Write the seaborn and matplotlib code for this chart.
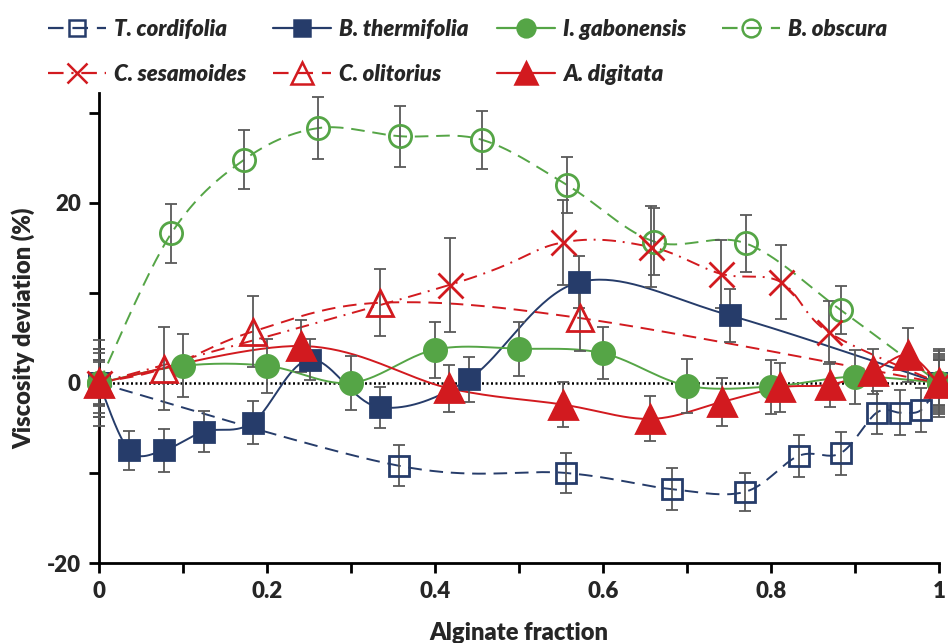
import numpy as np
import matplotlib
matplotlib.use("Agg")
import matplotlib.pyplot as plt
from matplotlib.lines import Line2D
import seaborn as sns

# Values (alginate fraction, viscosity deviation %, error)
x_tc = [0, 0.357, 0.556, 0.682, 0.769, 0.833, 0.883, 0.926, 0.954, 0.979, 1]
y_tc = [0, -9.2, -10.0, -11.8, -12.1, -8.1, -7.8, -3.3, -3.3, -3.0, 0]
e_tc = [2.5, 2.3, 2.2, 2.3, 2.1, 2.3, 2.4, 2.4, 2.5, 2.4, 2.6]

x_bt = [0, 0.036, 0.077, 0.125, 0.183, 0.251, 0.334, 0.440, 0.572, 0.751, 1]
y_bt = [0, -7.5, -7.5, -5.4, -4.4, 2.6, -2.7, 0.4, 11.2, 7.5, 0]
e_bt = [3.8, 2.2, 2.4, 2.3, 2.4, 2.3, 2.3, 2.5, 2.9, 2.9, 3.5]

x_ig = [0, 0.1, 0.2, 0.3, 0.4, 0.5, 0.6, 0.7, 0.8, 0.9, 1]
y_ig = [0, 1.9, 1.9, 0, 3.7, 3.8, 3.3, -0.3, -0.4, 0.7, 0]
e_ig = [3.3, 3.5, 3.0, 3.0, 3.1, 3.0, 2.9, 3.0, 3.0, 3.0, 3.2]

x_bo = [0, 0.086, 0.173, 0.261, 0.358, 0.456, 0.557, 0.661, 0.770, 0.883, 1]
y_bo = [0, 16.6, 24.8, 28.3, 27.4, 27.0, 22.0, 15.7, 15.5, 8.1, 0]
e_bo = [4.8, 3.3, 3.3, 3.4, 3.4, 3.2, 3.1, 3.7, 3.2, 2.7, 3.8]

x_cs = [0, 0.418, 0.552, 0.657, 0.741, 0.812, 0.869, 1]
y_cs = [0, 10.9, 15.6, 15.1, 12.1, 11.2, 5.6, 0]
e_cs = [2.3, 5.2, 4.7, 4.5, 3.8, 4.1, 3.5, 2.5]

x_co = [0, 0.077, 0.183, 0.334, 0.573, 1]
y_co = [0, 1.6, 5.7, 8.9, 7.2, 0]
e_co = [3.8, 4.6, 3.9, 3.7, 3.7, 3.0]

x_ad = [0, 0.241, 0.417, 0.552, 0.656, 0.742, 0.811, 0.870, 0.921, 0.963, 1]
y_ad = [0, 4.1, -0.6, -2.4, -4.0, -2.1, -0.5, -0.2, 1.3, 3.1, 0]
e_ad = [2.6, 2.9, 2.6, 2.5, 2.5, 2.7, 2.7, 2.5, 2.5, 3.0, 2.8]

NAVY = "#263C6A"
GREEN = "#55A546"
RED = "#D21A1F"
DASH = (0, (7, 4))
DASHDOT = (0, (7, 3.5, 1, 3.5))

# name, x, y, err, color, linestyle, marker, filled, markersize
series = [
    ("T. cordifolia", x_tc, y_tc, e_tc, NAVY, DASH, "s", False, 14),
    ("B. thermifolia", x_bt, y_bt, e_bt, NAVY, "-", "s", True, 15),
    ("I. gabonensis", x_ig, y_ig, e_ig, GREEN, "-", "o", True, 16),
    ("B. obscura", x_bo, y_bo, e_bo, GREEN, DASH, "o", False, 16),
    ("C. sesamoides", x_cs, y_cs, e_cs, RED, DASHDOT, "x", False, 18),
    ("C. olitorius", x_co, y_co, e_co, RED, DASH, "^", False, 19),
    ("A. digitata", x_ad, y_ad, e_ad, RED, "-", "^", True, 20),
]


def smooth(x, y, n=40):
    # Excel-style smoothed line (Catmull-Rom Bezier through the points)
    p = np.column_stack([x, y]).astype(float)
    p = np.vstack([p[0], p, p[-1]])
    t = np.linspace(0, 1, n, endpoint=False)[:, None]
    out = []
    for i in range(1, len(p) - 2):
        p0, p1, p2, p3 = p[i - 1], p[i], p[i + 1], p[i + 2]
        c1 = p1 + (p2 - p0) / 6
        c2 = p2 - (p3 - p1) / 6
        out.append((1 - t) ** 3 * p1 + 3 * (1 - t) ** 2 * t * c1
                   + 3 * (1 - t) * t ** 2 * c2 + t ** 3 * p2)
    out.append(p[-2][None])
    return np.vstack(out)


sns.set_theme(style="ticks")
plt.rcParams["font.family"] = ["Lato", "DejaVu Sans"]

fig = plt.figure(figsize=(9.48, 6.43), dpi=100)
ax = fig.add_axes([0.1044, 0.1244, 0.886, 0.731])

ax.axhline(0, color="black", linestyle=(0, (0.8, 1.0)), linewidth=1.8, zorder=1)

handles = []
for name, xs, ys, es, col, ls, mk, filled, ms in series:
    curve = smooth(xs, ys)
    sns.lineplot(x=curve[:, 0], y=curve[:, 1], ax=ax, color=col, linestyle=ls,
                 linewidth=1.4, sort=False, estimator=None, zorder=2)
    ax.errorbar(xs, ys, yerr=es, fmt="none", ecolor="#595959", elinewidth=1.3,
                capsize=4, capthick=1.3, zorder=3, clip_on=False)
    face = col if filled else "none"
    ax.plot(xs, ys, linestyle="none", marker=mk, markersize=ms,
            markerfacecolor=face, markeredgecolor=col, markeredgewidth=2,
            zorder=4, clip_on=False)
    handles.append(Line2D([], [], color=col, linestyle=ls, linewidth=1.6,
                          marker=mk, markersize=ms * 0.8, markerfacecolor=face,
                          markeredgecolor=col, markeredgewidth=1.8, label=name))

ax.set_xlim(0, 1)
ax.set_ylim(-20, 32.2)
ax.set_xticks(np.arange(0, 1.01, 0.1))
ax.set_xticklabels(["0" if i == 0 else ("1" if i == 10 else (f"{i/10:.1f}" if i % 2 == 0 else ""))
                    for i in range(11)])
ax.set_yticks([-20, -10, 0, 10, 20, 30])
ax.set_yticklabels(["-20", "", "0", "", "20", ""])
ax.tick_params(axis="both", direction="out", length=7, width=2, color="black",
               labelsize=16, pad=6)
for lab in ax.get_xticklabels() + ax.get_yticklabels():
    lab.set_fontweight("heavy")
for side in ["top", "right"]:
    ax.spines[side].set_visible(False)
for side in ["left", "bottom"]:
    ax.spines[side].set_linewidth(2)
    ax.spines[side].set_color("black")

ax.set_xlabel("Alginate fraction", fontsize=17, fontweight="heavy", labelpad=14)
ax.set_ylabel("Viscosity deviation (%)", fontsize=17, fontweight="heavy", labelpad=8)

# Legend: 4 equal-width columns, two rows (row-major like Excel)
columns = [[0, 4], [1, 5], [2, 6], [3]]
col_x = [48, 273, 497, 722]
for cx, idx in zip(col_x, columns):
    fig.legend([handles[i] for i in idx], [handles[i].get_label() for i in idx],
               loc="upper left", bbox_to_anchor=(cx / 948, 0.971), frameon=False,
               handlelength=2.6, handletextpad=0.35, labelspacing=1.09,
               borderaxespad=0, borderpad=0,
               prop={"size": 16, "weight": "heavy", "style": "italic"})

fig.savefig("out.png", dpi=100)
